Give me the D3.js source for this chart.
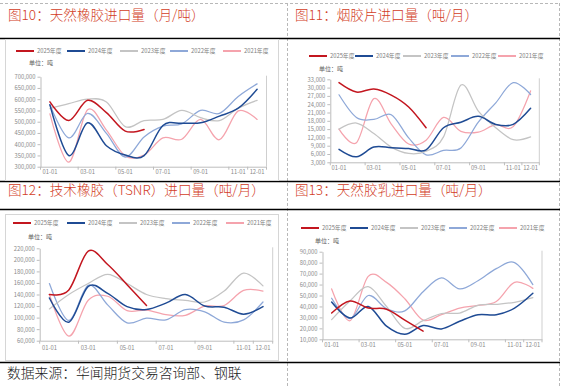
<!DOCTYPE html>
<html><head><meta charset="utf-8">
<script src="https://cdn.jsdelivr.net/npm/d3@7"></script>
<style>body{margin:0;background:#fff;} svg{display:block;}</style>
</head><body><svg id="c" width="563" height="386"></svg>
<script>
// ---------- DATA ----------
const months = ["01","02","03","04","05","06","07","08","09","10","11","12"];
const tickMonths = ["01","03","05","07","09","11","12"];
const tickLabels = ["01-01","03-01","05-01","07-01","09-01","11-01","12-01"];
const seriesNames = ["2025年度","2024年度","2023年度","2022年度","2021年度"];
const unitLabel = "单位：吨";
const footerText = "数据来源：华闻期货交易咨询部、钢联";

// 图10 天然橡胶进口量
const nr2025 = [588000, 505000, 595000, 540000, 458000, 465000];
const nr2024 = [575000, 350000, 495000, 393000, 352000, 349000, 483000, 493000, 495000, 525000, 560000, 644000];
const nr2023 = [558000, 580000, 600000, 588000, 478000, 505000, 510000, 550000, 518000, 505000, 560000, 595000];
const nr2022 = [575000, 428000, 537000, 448000, 343000, 432000, 480000, 490000, 550000, 537000, 612000, 668000];
const nr2021 = [535000, 320000, 553000, 463000, 348000, 352000, 428000, 422000, 510000, 420000, 548000, 510000];

// 图11 烟胶片进口量
const rss2025 = [31800, 28400, 29500, 27300, 23000, 15500];
const rss2024 = [7700, 5000, 8500, 8300, 8000, 7500, 15500, 17500, 19600, 16700, 16700, 22500];
const rss2023 = [15000, 17200, 13400, 8500, 6200, 7000, 12200, 30900, 21500, 15500, 11200, 12200];
const rss2022 = [27400, 19200, 18500, 20200, 11800, 5700, 7300, 8200, 17500, 24500, 31800, 27500];
const rss2021 = [15000, 10100, 26000, 16800, 9600, 11000, 19200, 14200, 13900, 16600, 15900, 28800];

// 图12 技术橡胶(TSNR)进口量
const tsnr2025 = [140000, 148000, 215000, 192000, 157000, 121000];
const tsnr2024 = [134000, 92000, 154000, 142000, 119000, 114000, 125000, 140000, 120000, 118000, 106000, 119000];
const tsnr2023 = [115000, 140000, 159000, 175000, 159000, 140000, 133000, 130000, 127000, 146000, 177000, 155000];
const tsnr2022 = [159000, 95000, 156000, 122000, 91000, 99000, 96000, 114000, 110000, 92000, 96000, 127000];
const tsnr2021 = [140000, 68000, 130000, 137000, 112000, 113000, 105000, 104000, 120000, 121000, 147000, 146000];

// 图13 天然胶乳进口量
const latex2025 = [34000, 45000, 38500, 37500, 27500, 17500];
const latex2024 = [44000, 29500, 40000, 22000, 14500, 22500, 19500, 26500, 32500, 32500, 38500, 52000];
const latex2023 = [28000, 45000, 58000, 40000, 20000, 27000, 33500, 34000, 41000, 42000, 43800, 48000];
const latex2022 = [47500, 29000, 50000, 38000, 36000, 53500, 66000, 56000, 63500, 74500, 80000, 60000];
const latex2021 = [56000, 27000, 67500, 62000, 47000, 27500, 32500, 38500, 41000, 44500, 62000, 56500];

// ---------- STYLE / LAYOUT ----------
const seriesColors = ["#c3161f", "#1f4b94", "#c4c4c4", "#8ea8d8", "#f5a3ad"];
const seriesWidths = [1.5, 1.5, 1.25, 1.25, 1.25];
const titleColor = "#d23d26";
const CJK = "'Noto Sans CJK SC','Noto Sans',sans-serif";

const panels = [
  {title:"图10：天然橡胶进口量（月/吨）", tx:8, ty:20, box:[5,39,278,180],
   legendY:51, legendX:[16,67,120,170,223], unitX:29, unitY:63,
   x0:40.5, x1:266.5, yTop:76.7, yBot:166.7, yMin:300000, yMax:700000, yStep:50000, xLabelY:173,
   data:[nr2025, nr2024, nr2023, nr2022, nr2021]},
  {title:"图11：烟胶片进口量（吨/月）", tx:295, ty:20, box:null,
   legendY:56, legendX:[309,355,403,451,498], unitX:319, unitY:69,
   x0:330.3, x1:539.3, yTop:79.3, yBot:162.3, yMin:3000, yMax:33000, yStep:3000, xLabelY:169,
   data:[rss2025, rss2024, rss2023, rss2022, rss2021]},
  {title:"图12：技术橡胶（TSNR）进口量（吨/月）", tx:8, ty:195, box:[5,214,278,360],
   legendY:223, legendX:[13,67,119,172,226], unitX:28, unitY:237,
   x0:39.7, x1:272.7, yTop:248.3, yBot:340.7, yMin:60000, yMax:220000, yStep:20000, xLabelY:349,
   data:[tsnr2025, tsnr2024, tsnr2023, tsnr2022, tsnr2021]},
  {title:"图13：天然胶乳进口量（吨/月）", tx:295, ty:195, box:null,
   legendY:228, legendX:[301,350,400,449,499], unitX:315, unitY:241,
   x0:322.5, x1:542, yTop:251.7, yBot:339.3, yMin:10000, yMax:90000, yStep:10000, xLabelY:346,
   data:[latex2025, latex2024, latex2023, latex2022, latex2021]}
];

const svg = d3.select("#c");

// frame: dashed borders and solid separators
const dashC = "#b8b8b8";
svg.append("line").attr("x1",0).attr("x2",559).attr("y1",3.5).attr("y2",3.5)
  .attr("stroke",dashC).attr("stroke-dasharray","3,2");
[287.5, 559.5].forEach(x => svg.append("line").attr("x1",x).attr("x2",x).attr("y1",3).attr("y2",386)
  .attr("stroke",dashC).attr("stroke-dasharray","3,2"));
[38.5, 181.5, 209.5, 362.5].forEach(y => svg.append("line").attr("x1",0).attr("x2",560).attr("y1",y).attr("y2",y)
  .attr("stroke","#000").attr("stroke-width",1.3));

svg.append("text").attr("x",7).attr("y",378).text(footerText)
  .attr("font-family",CJK).attr("font-size",13.8).attr("font-weight",300).attr("fill","#222");

panels.forEach(p => {
  const g = svg.append("g");
  g.append("text").attr("x",p.tx).attr("y",p.ty).text(p.title)
    .attr("font-family",CJK).attr("font-size",13.6).attr("font-weight",300).attr("fill",titleColor);
  if (p.box) {
    g.append("rect").attr("x",p.box[0]+0.5).attr("y",p.box[1]+0.5)
      .attr("width",p.box[2]-p.box[0]).attr("height",p.box[3]-p.box[1])
      .attr("fill","none").attr("stroke","#d6d6d6");
  }
  // legend
  seriesNames.forEach((n,i) => {
    const lx = p.legendX[i];
    g.append("line").attr("x1",lx).attr("x2",lx+18).attr("y1",p.legendY).attr("y2",p.legendY)
      .attr("stroke",seriesColors[i]).attr("stroke-width",2);
    g.append("text").attr("x",lx+21).attr("y",p.legendY).attr("dy","0.35em").text(n)
      .attr("font-family",CJK).attr("font-size",5.8).attr("fill","#808080");
  });
  g.append("text").attr("x",p.unitX).attr("y",p.unitY).attr("dy","0.35em").text(unitLabel)
    .attr("font-family",CJK).attr("font-size",6).attr("fill","#606060");

  const x = d3.scaleBand().domain(months).range([p.x0, p.x1]);
  const bw = x.bandwidth();
  const y = d3.scaleLinear().domain([p.yMin, p.yMax]).range([p.yBot, p.yTop]);

  // y axis
  const ya = g.append("g").attr("transform",`translate(${p.x0},0)`)
    .call(d3.axisLeft(y).tickValues(d3.range(p.yMin, p.yMax + 1, p.yStep))
      .tickSize(3).tickSizeOuter(0).tickPadding(2).tickFormat(d3.format(",")));
  ya.select(".domain").attr("stroke","#bdbdbd");
  ya.selectAll(".tick line").attr("stroke","#bdbdbd");
  ya.selectAll(".tick text").attr("font-family",CJK).attr("font-size",5.8).attr("fill","#8a8a8a");

  // x axis: labels at band centres, tick marks at band starts
  const xa = g.append("g").attr("transform",`translate(0,${p.yBot})`)
    .call(d3.axisBottom(x).tickValues(tickMonths).tickSize(0).tickSizeOuter(0)
      .tickPadding(p.xLabelY - p.yBot - 3)
      .tickFormat(m => tickLabels[tickMonths.indexOf(m)]));
  xa.select(".domain").attr("stroke","#bdbdbd");
  xa.selectAll(".tick text").attr("font-family",CJK).attr("font-size",5.8).attr("fill","#8a8a8a");
  const tickXs = tickMonths.map(m => x(m)).concat([p.x1]);
  g.selectAll(null).data(tickXs).enter().append("line")
    .attr("x1",d=>d).attr("x2",d=>d).attr("y1",p.yBot).attr("y2",p.yBot+3)
    .attr("stroke","#bdbdbd");
  // right border line of plot area
  g.append("line").attr("x1",p.x1).attr("x2",p.x1).attr("y1",p.yTop-1).attr("y2",p.yBot)
    .attr("stroke","#cfcfcf");

  const line = d3.line()
    .x((d,i) => x(months[i]) + bw/2)
    .y(d => y(d))
    .curve(d3.curveCatmullRom.alpha(0));
  for (let i = seriesNames.length - 1; i >= 0; i--) {
    g.append("path").attr("d", line(p.data[i])).attr("fill","none")
      .attr("stroke",seriesColors[i]).attr("stroke-width",seriesWidths[i])
      .attr("stroke-linejoin","round").attr("stroke-linecap","round");
  }
});
</script>
</body></html>
